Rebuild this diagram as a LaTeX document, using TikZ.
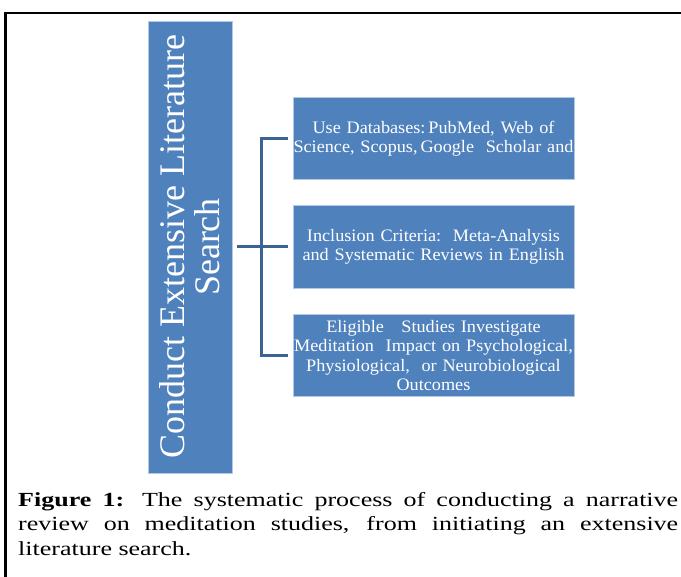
\documentclass[tikz,border=0pt]{standalone}
\usepackage{fontspec}
\setmainfont{Liberation Serif}
\newfontfamily\boxfont[FakeStretch=1.04]{Liberation Serif}
\newfontfamily\capfont[FakeStretch=1.3]{Liberation Serif}
\usetikzlibrary{calc}
\definecolor{boxblue}{HTML}{4F81BD}
\definecolor{boxedge}{HTML}{B4C8E2}
\definecolor{connblue}{HTML}{3B6494}
\tikzset{
  bluebox/.style={fill=boxblue, draw=boxedge, line width=0.8pt, inner sep=0pt},
  subbox/.style={bluebox, minimum width=281pt, minimum height=82.5pt, text width=281pt, align=center,
    text=white, font=\boxfont\fontsize{17.5}{19.5}\selectfont},
  conn/.style={draw=connblue, line width=3pt},
}
\begin{document}
\begin{tikzpicture}[x=1pt,y=-1pt]
\useasboundingbox (0,0) rectangle (681,577);
% frame
\draw[line width=2.5pt, black] (5.5,590) -- (5.5,13) -- (690,13);
% main box
\node[bluebox, rotate=90, minimum width=452pt, minimum height=84pt, align=center, text=white,
  font=\fontsize{36}{35}\selectfont] (main) at (190,247) {Conduct Extensive Literature\\Search};
% sub boxes
\node[subbox] (b1) at (433.5,138.6) {Use Databases:\,PubMed, Web of\\Science, Scopus,\,Google\ \ Scholar and};
\node[subbox] (b2) at (433.5,247) {Inclusion Criteria:\ \ Meta-Analysis\\and Systematic Reviews in\ English};
\node[subbox] (b3) at (433.5,355.5) {Eligible\ \ \ Studies Investigate\\Meditation\ \ Impact on Psychological,\\Physiological,\ \ or Neurobiological\\Outcomes};
% connectors
\draw[conn] ([xshift=5pt]main.south) -- ([xshift=-5pt]b2.west);
\draw[conn] ([xshift=-5pt]b1.west) -- ++(-26,0) |- ([xshift=-5pt]b3.west);
% caption
\node[anchor=north west, inner sep=0pt, text width=660pt, align=justify,
  font=\capfont\fontsize{20}{24.5}\selectfont] (cap) at (18,492)
  {\textbf{Figure 1:} The systematic process of conducting a narrative\linebreak
   review on meditation studies, from initiating an extensive\linebreak
   literature search.};
\end{tikzpicture}
\end{document}
